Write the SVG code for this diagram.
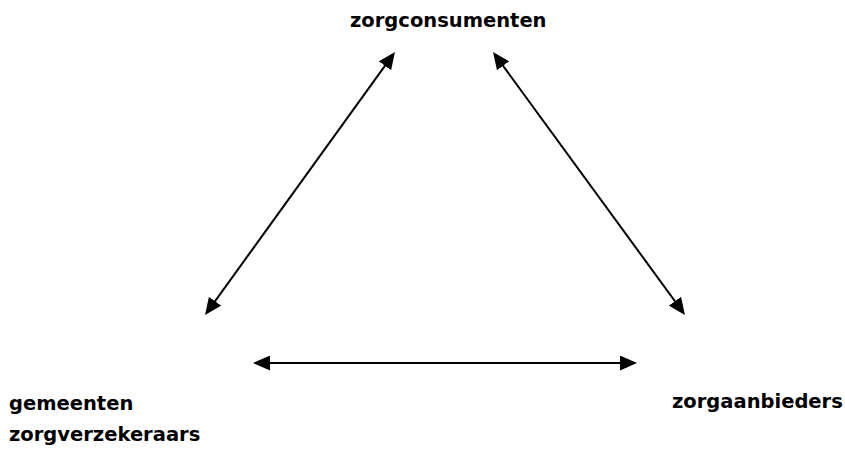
<svg xmlns="http://www.w3.org/2000/svg" width="845" height="450" viewBox="0 0 845 450">
<style>
.lbl{font-family:"DejaVu Sans","Liberation Sans",sans-serif;font-weight:bold;font-size:19.5px;fill:#000}
.con{stroke:#000;stroke-width:2;fill:none;marker-start:url(#ah);marker-end:url(#ah)}
</style>
<defs>
<marker id="ah" viewBox="0 0 17 15" refX="14" refY="7.5" markerWidth="17" markerHeight="15" markerUnits="userSpaceOnUse" orient="auto-start-reverse">
<path d="M0,0 L17,7.5 L0,15 z" fill="#000"/>
</marker>
</defs>
<rect width="845" height="450" fill="#fff"/>
<g id="connectors">
<line class="con" x1="393.2" y1="54.4" x2="206.8" y2="312.6"/>
<line class="con" x1="494.8" y1="54.5" x2="683.2" y2="312.5"/>
<line class="con" x1="256" y1="363" x2="634" y2="363"/>
</g>
<g id="zorgconsumenten"><text class="lbl" x="350" y="27">zorgconsumenten</text></g>
<g id="gemeenten"><text class="lbl" x="9" y="410">gemeenten</text><text class="lbl" x="9" y="441">zorgverzekeraars</text></g>
<g id="zorgaanbieders"><text class="lbl" x="672" y="408">zorgaanbieders</text></g>
</svg>
